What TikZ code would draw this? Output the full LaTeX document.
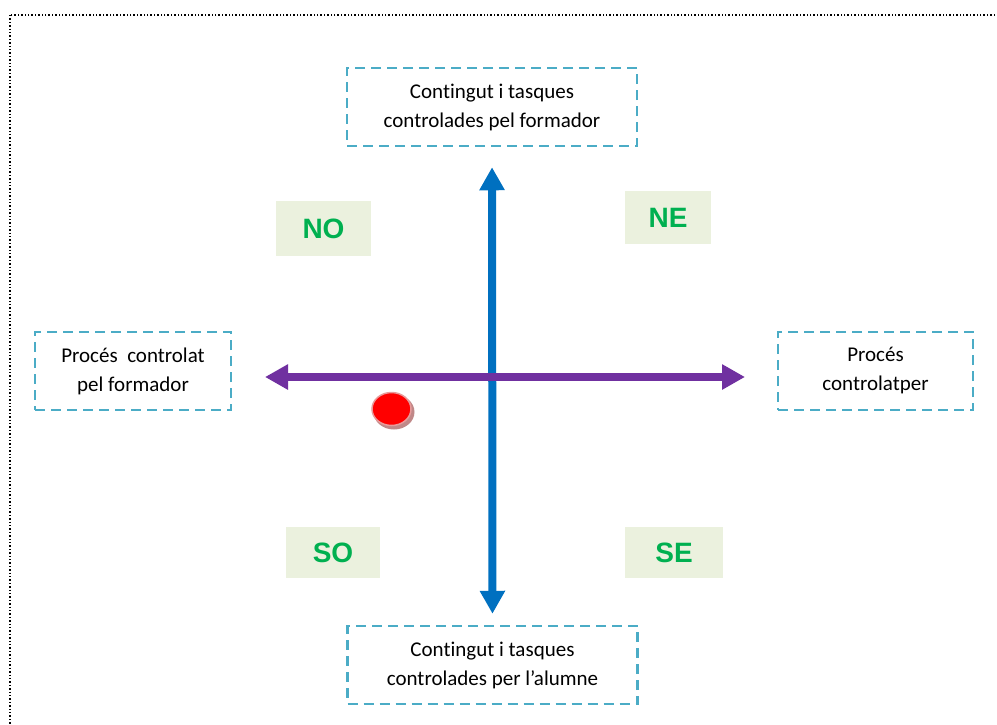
\documentclass[tikz,border=0pt]{standalone}
\usepackage{fontspec}
\setmainfont{Carlito}[Ligatures=NoCommon]
\newfontfamily\quadfont{Liberation Sans}
\usetikzlibrary{arrows.meta,shapes.geometric}
\definecolor{boxline}{HTML}{4BACC6}
\definecolor{axisblue}{HTML}{0070C0}
\definecolor{axispurple}{HTML}{7030A0}
\definecolor{quadtext}{HTML}{00B050}
\definecolor{quadfill}{HTML}{EBF1DE}
\definecolor{dotshadow}{HTML}{C08888}
\definecolor{dotrim}{HTML}{E89A9A}

\begin{document}
\begin{tikzpicture}[x=1pt,y=-1pt,
  axis/.style={{Triangle[length=23pt,width=24pt]}-{Triangle[length=23pt,width=24pt]},line width=8pt},
  textbox/.style={draw=boxline,line width=2.5pt,dash pattern=on 10pt off 6pt,minimum width=290pt,minimum height=78pt,
    align=center,inner sep=0pt,font=\fontsize{21}{29}\selectfont},
  quad/.style={fill=quadfill,text=quadtext,font=\quadfont\bfseries\fontsize{28}{28}\selectfont,
    minimum height=51pt,inner sep=0pt}]
\useasboundingbox (0,0) rectangle (997,724);
\draw[dotted,line width=1.4pt] (10,15) rectangle (1010,740);
% boxes
\node[textbox] (top) at (492,107) {Contingut i tasques\\controlades pel formador};
\node[textbox] (bottom) at (492.5,665) {Contingut i tasques\\controlades per l’alumne};
\node[textbox,minimum width=196pt] (left) at (133,371) {Procés\ \ controlat\\pel formador};
\node[textbox,minimum width=195pt] (right) at (875.5,371) {Procés\\controlatper};
% quadrants
\node[quad,minimum width=95pt,minimum height=55pt] (no) at (323.5,228.5) {NO};
\node[quad,minimum width=86pt,minimum height=53pt] (ne) at (668,217.5) {NE};
\node[quad,minimum width=94pt] (so) at (333,552.5) {SO};
\node[quad,minimum width=98pt] (se) at (674,552.5) {SE};
% axes
\coordinate (w) at (265,377);
\coordinate (e) at (745,377);
\draw[axis,color=axisblue,shorten <=20pt,shorten >=11pt] (top) -- (bottom);
\draw[axis,color=axispurple] (w) -- (e);
% dot
\node[ellipse,fill=dotshadow,minimum width=41pt,minimum height=35pt,inner sep=0pt] (shadow) at (394,412) {};
\node[ellipse,fill=red,draw=dotrim,line width=1.5pt,minimum width=39pt,minimum height=33pt,inner sep=0pt] (dot) at (391.5,409) {};
\end{tikzpicture}
\end{document}
